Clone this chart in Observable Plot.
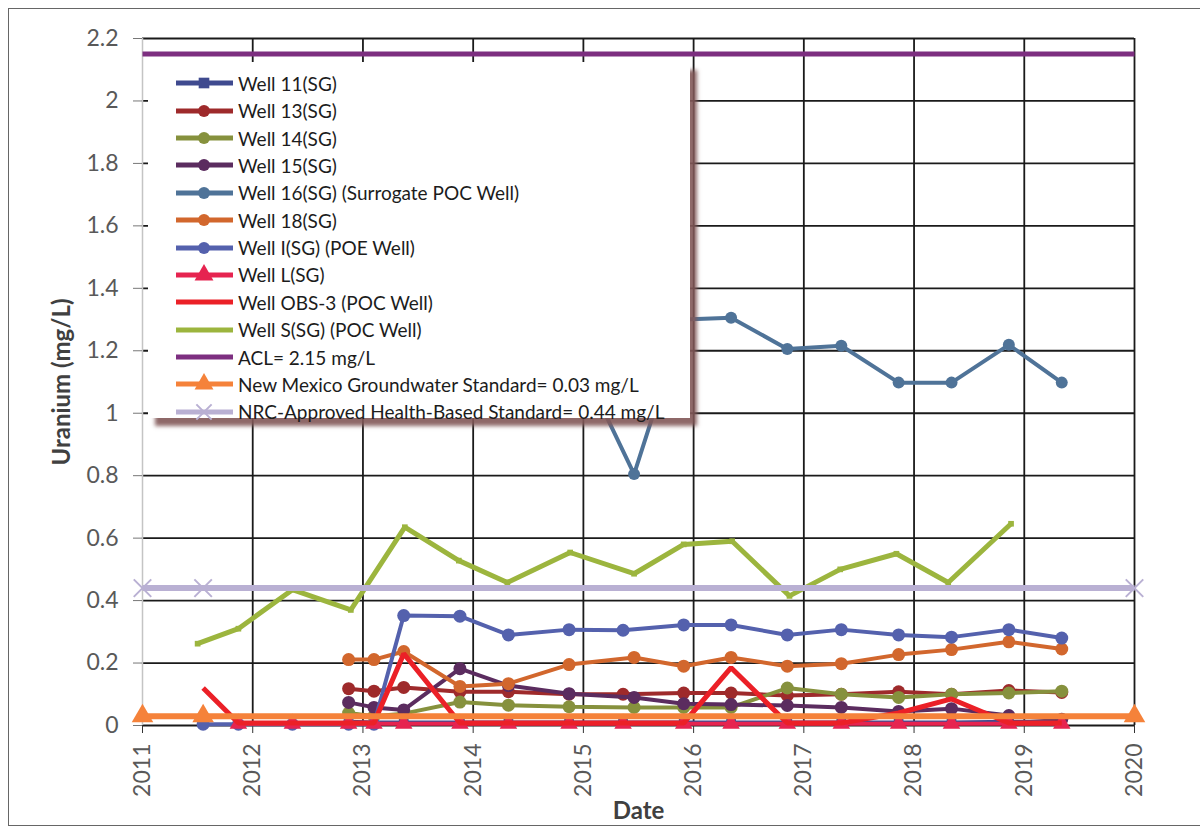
<!DOCTYPE html>
<html><head><meta charset="utf-8">
<script src="https://cdn.jsdelivr.net/npm/d3@7"></script>
<script src="https://cdn.jsdelivr.net/npm/@observablehq/plot@0.6"></script>
<style>
body{margin:0;background:#fff;}
#wrap{position:relative;width:1200px;height:827px;overflow:hidden;font-family:Lato,sans-serif;background:#fff;}
#chart{position:absolute;left:0;top:0;}
#frame{position:absolute;left:8px;top:8px;width:1200px;height:818px;border:1.5px solid #666;border-right:none;box-sizing:border-box;pointer-events:none;}
#legend{position:absolute;left:148px;top:62px;width:542px;height:356px;background:#fff;box-shadow:7px 8px 4px rgba(130,88,88,0.9);}
.row{position:absolute;left:26px;height:24px;display:flex;align-items:center;}
.row span{font-size:19px;color:#1c1c1c;margin-left:4px;white-space:nowrap;}
</style></head><body>
<div id="wrap"><div id="chart"></div><div id="legend"></div><div id="frame"></div></div>
<script>
// ---- Data ----
const xTicks = [2011, 2012, 2013, 2014, 2015, 2016, 2017, 2018, 2019, 2020];
const yTicks = [0, 0.2, 0.4, 0.6, 0.8, 1, 1.2, 1.4, 1.6, 1.8, 2, 2.2];

const seriesNames = ["Well 11(SG)", "Well 13(SG)", "Well 14(SG)", "Well 15(SG)",
  "Well 16(SG) (Surrogate POC Well)", "Well 18(SG)", "Well I(SG) (POE Well)", "Well L(SG)",
  "Well OBS-3 (POC Well)", "Well S(SG) (POC Well)", "ACL= 2.15 mg/L",
  "New Mexico Groundwater Standard= 0.03 mg/L", "NRC-Approved Health-Based Standard= 0.44 mg/L"];
const seriesColors = ["#3f4a8f", "#9e2a2b", "#86913d", "#5b2c5f", "#4f7398", "#d2672d", "#5461ad",
  "#e62450", "#eb2027", "#9cb53e", "#7d2f80", "#f5823a", "#b9b0d3"];
const seriesSymbols = ["square", "circle", "circle", "circle", "circle", "circle", "circle",
  "triangle", null, null, null, "triangle", "times"];

const well11Dates = [2012.87, 2013.10, 2013.37, 2013.88, 2014.32, 2014.87, 2015.36, 2015.91, 2016.34, 2016.85, 2017.34, 2017.86, 2018.34, 2018.86, 2019.34];
const well11Values = [0.012, 0.01, 0.01, 0.01, 0.01, 0.01, 0.01, 0.01, 0.01, 0.01, 0.01, 0.01, 0.01, 0.012, 0.012];

const well13Dates = [2012.87, 2013.10, 2013.37, 2013.88, 2014.32, 2014.87, 2015.36, 2015.91, 2016.34, 2016.85, 2017.34, 2017.86, 2018.34, 2018.86, 2019.34];
const well13Values = [0.118, 0.11, 0.122, 0.108, 0.108, 0.1, 0.1, 0.104, 0.104, 0.096, 0.1, 0.108, 0.1, 0.112, 0.106];

const well14Dates = [2012.87, 2013.10, 2013.37, 2013.88, 2014.32, 2014.87, 2015.46, 2015.91, 2016.34, 2016.85, 2017.34, 2017.86, 2018.34, 2018.86, 2019.34];
const well14Values = [0.04, 0.03, 0.038, 0.075, 0.065, 0.06, 0.058, 0.058, 0.058, 0.12, 0.1, 0.09, 0.1, 0.104, 0.11];

const well15Dates = [2012.87, 2013.10, 2013.37, 2013.88, 2014.32, 2014.87, 2015.46, 2015.91, 2016.34, 2016.85, 2017.34, 2017.86, 2018.34, 2018.86, 2019.34];
const well15Values = [0.074, 0.058, 0.05, 0.182, 0.128, 0.102, 0.09, 0.07, 0.067, 0.064, 0.058, 0.045, 0.054, 0.032, 0.02];

const well16Dates = [2012.87, 2013.37, 2013.88, 2014.32, 2014.87, 2015.46, 2015.91, 2016.34, 2016.85, 2017.34, 2017.86, 2018.34, 2018.86, 2019.34];
const well16Values = [1.32, 1.28, 1.3, 1.22, 1.24, 0.805, 1.30, 1.306, 1.206, 1.216, 1.098, 1.098, 1.219, 1.098];

const well18Dates = [2012.87, 2013.10, 2013.37, 2013.88, 2014.32, 2014.87, 2015.46, 2015.91, 2016.34, 2016.85, 2017.34, 2017.86, 2018.34, 2018.86, 2019.34];
const well18Values = [0.211, 0.211, 0.237, 0.125, 0.134, 0.195, 0.218, 0.19, 0.218, 0.19, 0.198, 0.227, 0.243, 0.268, 0.245];

const wellIDates = [2011.55, 2011.87, 2012.36, 2012.87, 2013.10, 2013.37, 2013.88, 2014.32, 2014.87, 2015.36, 2015.91, 2016.34, 2016.85, 2017.34, 2017.86, 2018.34, 2018.86, 2019.34];
const wellIValues = [0.004, 0.004, 0.004, 0.004, 0.004, 0.352, 0.35, 0.29, 0.307, 0.305, 0.322, 0.322, 0.29, 0.307, 0.29, 0.283, 0.307, 0.28];

const wellLDates = [2011.87, 2012.36, 2012.87, 2013.10, 2013.37, 2013.88, 2014.32, 2014.87, 2015.36, 2015.91, 2016.34, 2016.85, 2017.34, 2017.86, 2018.34, 2018.86, 2019.34];
const wellLValues = [0.006, 0.006, 0.006, 0.006, 0.006, 0.006, 0.006, 0.006, 0.006, 0.006, 0.006, 0.006, 0.006, 0.006, 0.006, 0.006, 0.006];

const obs3Dates = [2011.55, 2011.87, 2012.36, 2012.87, 2013.10, 2013.37, 2013.88, 2014.32, 2014.87, 2015.36, 2015.91, 2016.34, 2016.85, 2017.34, 2017.86, 2018.34, 2018.86, 2019.34];
const obs3Values = [0.12, 0.008, 0.008, 0.008, 0.008, 0.23, 0.008, 0.008, 0.008, 0.008, 0.008, 0.185, 0.008, 0.008, 0.04, 0.085, 0.008, 0.008];

const wellSDates = [2011.50, 2011.87, 2012.36, 2012.89, 2013.38, 2013.87, 2014.31, 2014.88, 2015.46, 2015.91, 2016.35, 2016.87, 2017.33, 2017.84, 2018.31, 2018.88];
const wellSValues = [0.262, 0.31, 0.435, 0.37, 0.635, 0.528, 0.458, 0.554, 0.486, 0.58, 0.59, 0.415, 0.50, 0.55, 0.458, 0.646];

const aclDates = [2011, 2020];
const aclValues = [2.15, 2.15];
const nmDates = [2011, 2011.55, 2020];
const nmValues = [0.03, 0.03, 0.03];
const nrcDates = [2011, 2011.55, 2020];
const nrcValues = [0.44, 0.44, 0.44];

const seriesDates = [well11Dates, well13Dates, well14Dates, well15Dates, well16Dates, well18Dates,
  wellIDates, wellLDates, obs3Dates, wellSDates, aclDates, nmDates, nrcDates];
const seriesValues = [well11Values, well13Values, well14Values, well15Values, well16Values, well18Values,
  wellIValues, wellLValues, obs3Values, wellSValues, aclValues, nmValues, nrcValues];

// ---- Build ----
const lineWidths = [4, 4, 4, 4, 4, 4, 4, 4, 5, 5, 5, 6, 6];
const dotR = [5.5, 6.5, 6.5, 6.5, 6, 6.5, 6.5, 6.5, 0, 0, 0, 8, 8];

const marks = [
  Plot.gridY({ticks: yTicks, stroke: "#1a1a1a", strokeOpacity: 1, strokeWidth: 1.8}),
  Plot.gridX({ticks: xTicks.slice(1), stroke: "#1a1a1a", strokeOpacity: 1, strokeWidth: 1.8}),
  Plot.ruleX([xTicks[0]], {stroke: "#c4c4c4", strokeWidth: 1.5}),
  Plot.axisY({ticks: yTicks, tickSize: 9, tickPadding: 15, tickFormat: d => String(+d.toFixed(1)), fontSize: 23, stroke: "#777", fill: "#595959", label: null}),
  Plot.axisX({ticks: xTicks, tickSize: 8, tickPadding: 10, tickRotate: -90, tickFormat: d => String(d), fontSize: 23, stroke: "#333", fill: "#595959", label: null}),
  Plot.text(["Uranium (mg/L)"], {frameAnchor: "left", textAnchor: "middle", lineAnchor: "middle", dx: -80, rotate: -90, fontWeight: "bold", fontSize: 24, fill: "#404040"}),
  Plot.text(["Date"], {frameAnchor: "bottom", textAnchor: "middle", lineAnchor: "middle", dy: 86, fontWeight: "bold", fontSize: 24, fill: "#404040"})
];

seriesNames.forEach((name, k) => {
  const rows = seriesDates[k].map((d, i) => ({date: d, value: seriesValues[k][i]}));
  marks.push(Plot.line(rows, {x: "date", y: "value", stroke: seriesColors[k], strokeWidth: lineWidths[k], strokeLinejoin: "miter", strokeLinecap: "butt"}));
  if (name === "Well S(SG) (POC Well)") {
    marks.push(Plot.dot(rows, {x: "date", y: "value", symbol: "square", r: 3.2, fill: seriesColors[k]}));
  }
  if (seriesSymbols[k]) {
    if (seriesSymbols[k] === "times") {
      marks.push(Plot.dot(rows, {x: "date", y: "value", symbol: "times", r: dotR[k], stroke: seriesColors[k], strokeWidth: 2}));
    } else {
      marks.push(Plot.dot(rows, {x: "date", y: "value", symbol: seriesSymbols[k], r: dotR[k], fill: seriesColors[k]}));
    }
  }
});

const chart = Plot.plot({
  width: 1200, height: 827,
  marginLeft: 142, marginRight: 66, marginTop: 38, marginBottom: 102,
  x: {domain: [2011, 2020]},
  y: {domain: [0, 2.2]},
  style: {fontFamily: "Lato, sans-serif", background: "transparent", overflow: "visible"},
  marks
});
document.getElementById("chart").appendChild(chart);

// ---- Legend ----
const legend = d3.select("#legend");
seriesNames.forEach((name, k) => {
  const row = legend.append("div").attr("class", "row").style("top", (9.3 + 27.37 * k) + "px");
  const svg = row.append("svg").attr("width", 60).attr("height", 24);
  svg.append("line").attr("x1", 2).attr("x2", 59).attr("y1", 12).attr("y2", 12)
    .attr("stroke", seriesColors[k]).attr("stroke-width", 5);
  const sym = seriesSymbols[k];
  if (sym) {
    const map = {square: d3.symbolSquare, circle: d3.symbolCircle, triangle: d3.symbolTriangle, times: d3.symbolTimes};
    const r = sym === "times" ? 7 : (sym === "triangle" ? 7 : 6);
    const p = svg.append("path").attr("transform", "translate(30,12)")
      .attr("d", d3.symbol(map[sym], Math.PI * r * r)());
    if (sym === "times") p.attr("fill", "none").attr("stroke", seriesColors[k]).attr("stroke-width", 2);
    else p.attr("fill", seriesColors[k]);
  }
  row.append("span").text(name);
});
</script>
</body></html>
